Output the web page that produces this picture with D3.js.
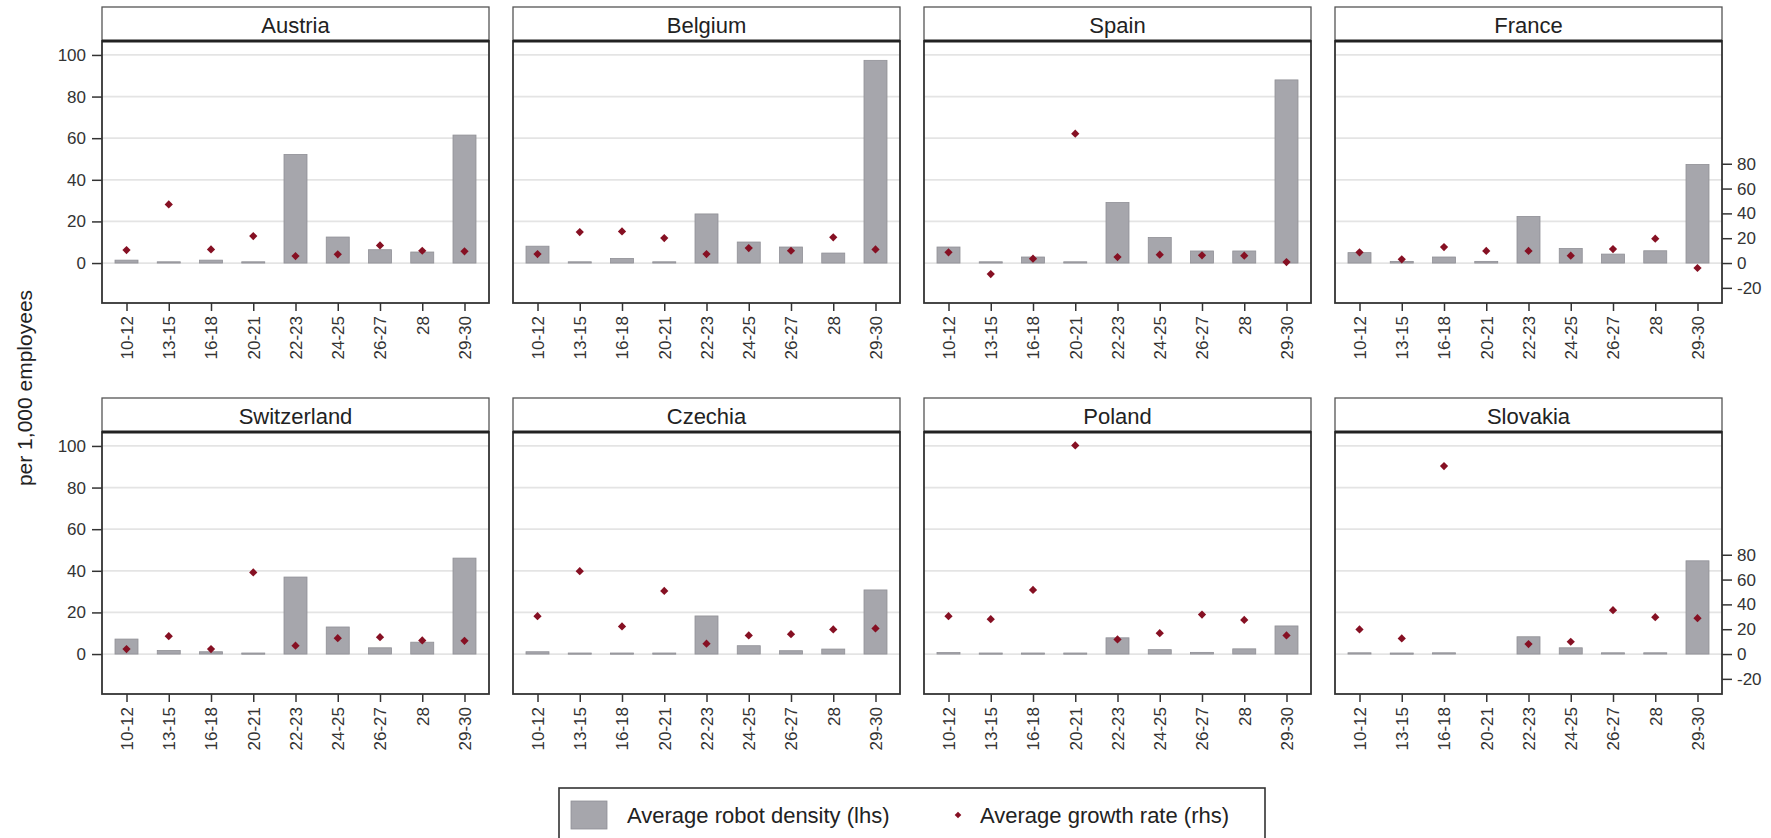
<!DOCTYPE html>
<html>
<head>
<meta charset="utf-8">
<script src="https://cdn.jsdelivr.net/npm/d3@7"></script>
<style>
  body { margin: 0; background: #fff; }
  svg { display: block; font-family: "Liberation Sans", Arial, sans-serif; }
</style>
</head>
<body>
<svg id="chart" width="1771" height="838"></svg>
<script>
// industry codes on the x axis
const categories = ["10-12", "13-15", "16-18", "20-21", "22-23", "24-25", "26-27", "28", "29-30"];
const countries = ["Austria", "Belgium", "Spain", "France", "Switzerland", "Czechia", "Poland", "Slovakia"];

// average robot density, per 1,000 employees (lhs)
const densityAustria     = [1.4, 0.6, 1.4, 0.6, 52.2, 12.5, 6.4, 5.3, 61.5];
const densityBelgium     = [8.1, 0.6, 2.2, 0.6, 23.6, 10.1, 7.7, 4.8, 97.4];
const densitySpain       = [7.7, 0.6, 2.9, 0.6, 29.1, 12.3, 5.8, 5.8, 88.0];
const densityFrance      = [5.0, 0.8, 2.9, 0.8, 22.4, 7.0, 4.3, 5.9, 47.4];
const densitySwitzerland = [7.2, 1.7, 1.1, 0.5, 37.0, 13.0, 3.0, 5.7, 46.1];
const densityCzechia     = [1.1, 0.5, 0.5, 0.5, 18.3, 4.0, 1.6, 2.4, 30.8];
const densityPoland      = [0.7, 0.5, 0.5, 0.5, 7.8, 2.1, 0.8, 2.5, 13.5];
const densitySlovakia    = [0.6, 0.5, 0.6, null, 8.3, 3.0, 0.6, 0.6, 44.8];

// average growth rate (rhs)
const growthAustria     = [10.5, 47.2, 11.0, 21.7, 5.6, 7.0, 14.2, 9.9, 9.4];
const growthBelgium     = [7.2, 25.0, 25.5, 20.1, 7.2, 12.1, 9.9, 20.7, 11.0];
const growthSpain       = [8.6, -8.9, 3.5, 104.2, 4.8, 6.7, 6.2, 5.9, 0.8];
const growthFrance      = [8.6, 3.0, 12.9, 9.7, 9.7, 5.9, 11.3, 19.6, -4.0];
const growthSwitzerland = [4.0, 14.4, 4.0, 65.7, 6.7, 12.8, 13.6, 11.0, 10.7];
const growthCzechia     = [30.5, 66.8, 22.2, 50.8, 8.3, 15.0, 16.0, 19.8, 20.6];
const growthPoland      = [30.5, 28.1, 51.6, 168.1, 11.8, 16.8, 31.8, 27.5, 15.0];
const growthSlovakia    = [19.8, 12.6, 151.5, null, 8.0, 9.9, 35.3, 29.7, 28.9];

const lhsTicks = [0, 20, 40, 60, 80, 100];
const rhsTicks = [-20, 0, 20, 40, 60, 80];

const densityByCountry = [densityAustria, densityBelgium, densitySpain, densityFrance,
  densitySwitzerland, densityCzechia, densityPoland, densitySlovakia];
const growthByCountry = [growthAustria, growthBelgium, growthSpain, growthFrance,
  growthSwitzerland, growthCzechia, growthPoland, growthSlovakia];

const barColor = "#a6a6ac", barStroke = "#909096", dotColor = "#861023";
const frameColor = "#333", textColor = "#222";

const svg = d3.select("#chart");

const left = 102, panelW = 387, gap = 24;
const rowTop = [7, 398];
const stripH = 34, plotH = 262;

const x = d3.scalePoint().domain(categories).range([0, panelW]).padding(0.58);
const yL = d3.scaleLinear().domain([-19.2, 106.7]).range([plotH, 0]);
const yR = d3.scaleLinear().domain([-32.2, 178.9]).range([plotH, 0]);
const barW = 23;
const diamond = d3.symbol().type(d3.symbolSquare).size(34);
const plainNum = d => String(d); // keep ascii hyphen for negatives

countries.forEach((name, i) => {
  const col = i % 4, row = Math.floor(i / 4);
  const px = left + col * (panelW + gap);
  const py = rowTop[row];
  const g = svg.append("g").attr("transform", `translate(${px},${py})`);

  // strip with country name
  g.append("rect")
    .attr("width", panelW).attr("height", stripH)
    .attr("fill", "#fff").attr("stroke", "#555").attr("stroke-width", 1.3);
  g.append("text")
    .attr("x", panelW / 2).attr("y", stripH / 2 + 1)
    .attr("dy", "0.35em").attr("text-anchor", "middle")
    .attr("font-size", 22).attr("fill", textColor)
    .text(name);

  const p = g.append("g").attr("transform", `translate(0,${stripH})`);

  // grid
  p.selectAll(".grid").data(lhsTicks).enter().append("line")
    .attr("x1", 0).attr("x2", panelW)
    .attr("y1", d => yL(d)).attr("y2", d => yL(d))
    .attr("stroke", "#e4e4e4").attr("stroke-width", 1.8);

  // bars
  const bars = categories.map((c, k) => ({ c, v: densityByCountry[i][k] })).filter(d => d.v != null);
  p.selectAll(".bar").data(bars).enter().append("rect")
    .attr("x", d => x(d.c) - barW / 2)
    .attr("width", barW)
    .attr("y", d => yL(Math.max(0, d.v)))
    .attr("height", d => Math.max(1.2, Math.abs(yL(d.v) - yL(0))))
    .attr("fill", barColor).attr("stroke", barStroke).attr("stroke-width", 0.8);

  // growth diamonds
  const dots = categories.map((c, k) => ({ c, v: growthByCountry[i][k] })).filter(d => d.v != null);
  p.selectAll(".dot").data(dots).enter().append("path")
    .attr("d", diamond)
    .attr("transform", d => `translate(${x(d.c)},${yR(d.v)}) rotate(45)`)
    .attr("fill", dotColor);

  // frame
  p.append("rect")
    .attr("width", panelW).attr("height", plotH)
    .attr("fill", "none").attr("stroke", frameColor).attr("stroke-width", 1.8);
  g.append("line")
    .attr("x1", 0).attr("x2", panelW).attr("y1", stripH).attr("y2", stripH)
    .attr("stroke", "#222").attr("stroke-width", 3);

  // x axis
  const xa = p.append("g").attr("transform", `translate(0,${plotH})`)
    .call(d3.axisBottom(x).tickSize(8).tickPadding(3));
  xa.select(".domain").remove();
  xa.selectAll(".tick line").attr("stroke", frameColor).attr("stroke-width", 1.5);
  xa.selectAll(".tick text")
    .attr("font-size", 17).attr("fill", "#333")
    .attr("text-anchor", "end")
    .attr("transform", "rotate(-90)")
    .attr("x", -13).attr("y", 0).attr("dy", "0.35em");

  // left axis on first column
  if (col === 0) {
    const ya = p.append("g").call(d3.axisLeft(yL).tickValues(lhsTicks).tickFormat(plainNum).tickSize(10).tickPadding(6));
    ya.select(".domain").remove();
    ya.selectAll(".tick line").attr("stroke", frameColor).attr("stroke-width", 1.5);
    ya.selectAll(".tick text").attr("font-size", 17).attr("fill", "#333");
  }
  // right axis on last column
  if (col === 3) {
    const ra = p.append("g").attr("transform", `translate(${panelW},0)`)
      .call(d3.axisRight(yR).tickValues(rhsTicks).tickFormat(plainNum).tickSize(10).tickPadding(5));
    ra.select(".domain").remove();
    ra.selectAll(".tick line").attr("stroke", frameColor).attr("stroke-width", 1.5);
    ra.selectAll(".tick text").attr("font-size", 17).attr("fill", "#333");
  }
});

// y title
svg.append("text")
  .attr("transform", "translate(25,388) rotate(-90)")
  .attr("text-anchor", "middle").attr("dy", "0.35em")
  .attr("font-size", 21).attr("fill", textColor)
  .text("per 1,000 employees");

// legend
const lg = svg.append("g").attr("transform", "translate(559,788)");
lg.append("rect")
  .attr("width", 706).attr("height", 80)
  .attr("fill", "#fff").attr("stroke", frameColor).attr("stroke-width", 1.6);
lg.append("rect")
  .attr("x", 12).attr("y", 13).attr("width", 36).attr("height", 28)
  .attr("fill", barColor).attr("stroke", barStroke).attr("stroke-width", 0.8);
lg.append("text")
  .attr("x", 68).attr("y", 27).attr("dy", "0.35em")
  .attr("font-size", 22).attr("fill", textColor)
  .text("Average robot density (lhs)");
lg.append("path")
  .attr("d", d3.symbol().type(d3.symbolSquare).size(22))
  .attr("transform", "translate(399,27) rotate(45)")
  .attr("fill", dotColor);
lg.append("text")
  .attr("x", 421).attr("y", 27).attr("dy", "0.35em")
  .attr("font-size", 22).attr("fill", textColor)
  .text("Average growth rate (rhs)");
</script>
</body>
</html>
